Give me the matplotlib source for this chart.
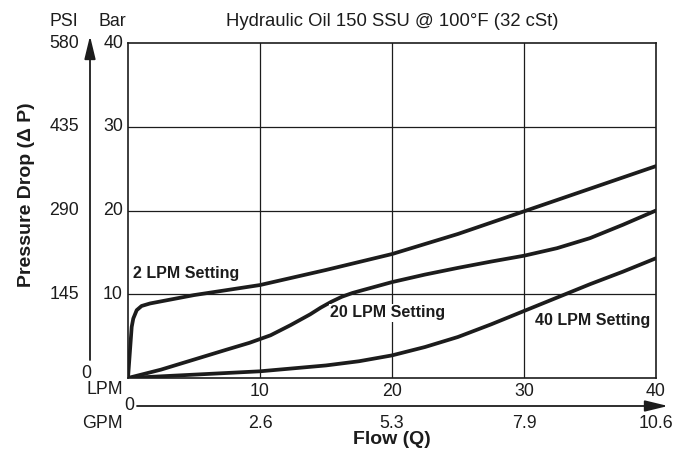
import matplotlib
matplotlib.use("Agg")
import matplotlib.pyplot as plt
from matplotlib import transforms

plt.rcParams['font.family'] = ['Liberation Sans', 'DejaVu Sans']

# curve data: flow (LPM) vs pressure drop (bar)
flow_2 = [0, 0.28, 0.4, 0.66, 1.03, 1.67, 3, 5, 10, 15, 20, 25, 30, 35, 40]
dp_2 = [0, 6.1, 7.1, 8.1, 8.6, 8.9, 9.3, 9.9, 11.1, 12.9, 14.8, 17.2, 19.9, 22.6, 25.3]

flow_20 = [0, 2.5, 5, 7.5, 9.2, 10.8, 12.3, 13.8, 14.6, 15.4, 16.2, 17.0, 17.8,
           20, 22.5, 25, 27.5, 30, 32.5, 35, 37.5, 40]
dp_20 = [0, 1.0, 2.2, 3.4, 4.2, 5.1, 6.3, 7.6, 8.4, 9.1, 9.7, 10.15, 10.5,
         11.45, 12.35, 13.15, 13.9, 14.6, 15.5, 16.7, 18.3, 20.0]

flow_40 = [0, 5, 10, 15, 17.5, 20, 22.5, 25, 27.5, 30, 32.5, 35, 37.5, 40]
dp_40 = [0, 0.4, 0.8, 1.5, 2.0, 2.7, 3.7, 4.9, 6.4, 8.0, 9.6, 11.2, 12.7, 14.3]

bar_ticks = [10, 20, 30, 40]
psi_labels = ['145', '290', '435', '580']
lpm_ticks = [10, 20, 30, 40]
gpm_labels = ['2.6', '5.3', '7.9', '10.6']

W, H = 690, 449
L, R, T, B = 128, 656, 43, 378   # axes box in pixels


def ax_x(px):
    return (px - L) / (R - L)


def ax_y(py):
    return (B - py) / (B - T)


ink = '#1c1c1c'
fig = plt.figure(figsize=(W / 100, H / 100), dpi=100)
ax = fig.add_axes([L / W, 1 - B / H, (R - L) / W, (B - T) / H])

ax.set_xlim(0, 40)
ax.set_ylim(0, 40)
for x in lpm_ticks[:-1]:
    ax.axvline(x, color=ink, lw=0.9, zorder=1)
for y in bar_ticks[:-1]:
    ax.axhline(y, color=ink, lw=0.9, zorder=1)
for s in ax.spines.values():
    s.set_linewidth(1.2)
    s.set_color(ink)
ax.set_xticks([])
ax.set_yticks([])

for fx, dy in [(flow_2, dp_2), (flow_20, dp_20), (flow_40, dp_40)]:
    ax.plot(fx, dy, color=ink, lw=2.7, solid_joinstyle='round',
            solid_capstyle='round', zorder=3)

lab = dict(fontsize=11.5, fontweight='bold', color=ink, va='center', ha='left')
ax.text(0.4, 12.5, '2 LPM Setting', **lab, zorder=4)
ax.text(15.3, 7.8, '20 LPM Setting', **lab, zorder=4,
        bbox=dict(facecolor='white', edgecolor='none', pad=1))
ax.text(30.8, 6.9, '40 LPM Setting', **lab, zorder=4)

# left scales
ty = transforms.blended_transform_factory(ax.transAxes, ax.transData)
for b, p in zip(bar_ticks, psi_labels):
    ax.text(ax_x(123), b, str(b), transform=ty, ha='right', va='center',
            fontsize=12.8, color=ink)
    ax.text(ax_x(79), b, p, transform=ty, ha='right', va='center',
            fontsize=12.8, color=ink)
ax.text(ax_x(86), ax_y(373), '0', transform=ax.transAxes, ha='center',
        va='center', fontsize=12.8, color=ink)
ax.text(ax_x(64), ax_y(21), 'PSI', transform=ax.transAxes, ha='center',
        va='center', fontsize=12.8, color=ink)
ax.text(ax_x(112), ax_y(21), 'Bar', transform=ax.transAxes, ha='center',
        va='center', fontsize=12.8, color=ink)
ax.annotate('', xy=(ax_x(90), ax_y(36)), xytext=(ax_x(90), ax_y(360)),
            xycoords='axes fraction', textcoords='axes fraction',
            arrowprops=dict(arrowstyle='-|>,head_length=0.7,head_width=0.17',
                            mutation_scale=20, lw=1.3, color=ink,
                            shrinkA=0, shrinkB=0))
ax.text(ax_x(27), ax_y(195), 'Pressure Drop (\u0394 P)', transform=ax.transAxes,
        rotation=90, ha='center', va='center', fontsize=14, fontweight='bold',
        color=ink)

# bottom scales
tx = transforms.blended_transform_factory(ax.transData, ax.transAxes)
for x, g in zip(lpm_ticks, gpm_labels):
    ax.text(x, ax_y(392), str(x), transform=tx, ha='center', va='center',
            fontsize=12.8, color=ink)
    ax.text(x, ax_y(424), g, transform=tx, ha='center', va='center',
            fontsize=12.8, color=ink)
ax.text(ax_x(123), ax_y(390), 'LPM', transform=ax.transAxes, ha='right',
        va='center', fontsize=12.8, color=ink)
ax.text(ax_x(123), ax_y(423), 'GPM', transform=ax.transAxes, ha='right',
        va='center', fontsize=12.8, color=ink)
ax.text(ax_x(129), ax_y(406), '0', transform=ax.transAxes, ha='center',
        va='center', fontsize=12.8, color=ink)
ax.annotate('', xy=(ax_x(668), ax_y(406)), xytext=(ax_x(137), ax_y(406)),
            xycoords='axes fraction', textcoords='axes fraction',
            arrowprops=dict(arrowstyle='-|>,head_length=0.7,head_width=0.17',
                            mutation_scale=20, lw=1.3, color=ink,
                            shrinkA=0, shrinkB=0))
ax.text(0.5, ax_y(440), 'Flow (Q)', transform=ax.transAxes, ha='center',
        va='center', fontsize=14, fontweight='bold', color=ink)

ax.text(0.5, ax_y(21), 'Hydraulic Oil 150 SSU @ 100\u00b0F (32 cSt)',
        transform=ax.transAxes, ha='center', va='center', fontsize=13.3,
        color=ink)

fig.savefig('out.png', dpi=100)
